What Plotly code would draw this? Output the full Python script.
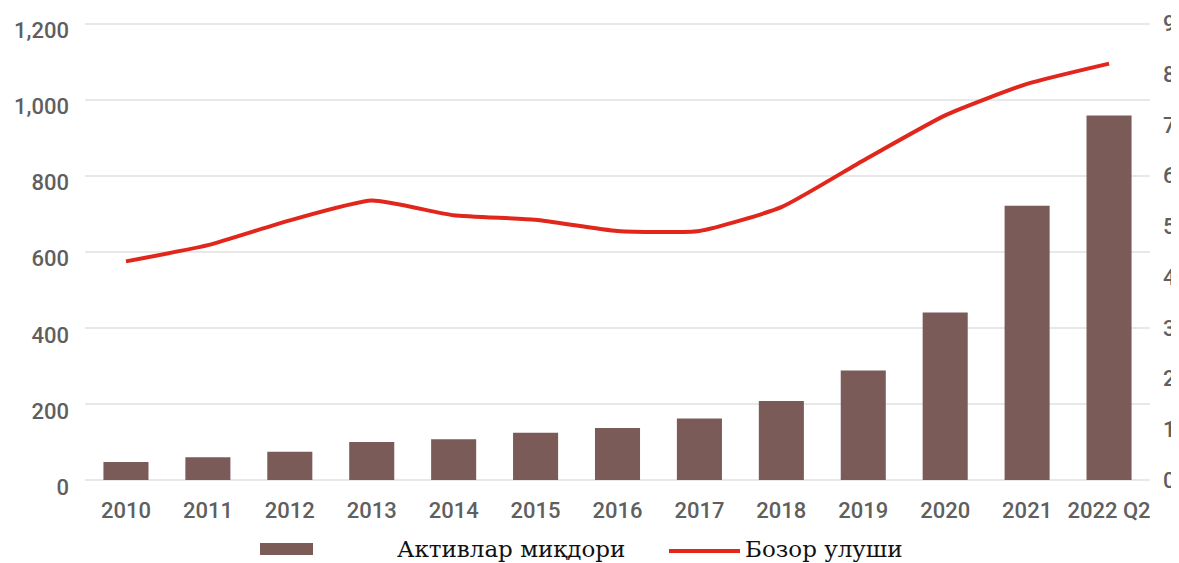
import plotly.graph_objects as go

categories = ["2010", "2011", "2012", "2013", "2014", "2015", "2016",
              "2017", "2018", "2019", "2020", "2021", "2022 Q2"]
assets = [47, 60, 74, 100, 107, 124, 137, 162, 208, 288, 440, 721, 958]
market_share = [4.31, 4.63, 5.12, 5.51, 5.22, 5.13, 4.91, 4.91, 5.38, 6.30, 7.19, 7.81, 8.21]

bar_name = "Активлар миқдори"
line_name = "Бозор улуши"

bar_color = "#7b5b58"
line_color = "#e1261c"
tick_color = "#5f5f5f"
grid_color = "#e8e8e8"
tick_font = dict(family="Roboto, Arial, sans-serif", size=22, color=tick_color, weight=500)

fig = go.Figure()
fig.add_trace(go.Bar(x=categories, y=assets, name=bar_name,
                     marker=dict(color=bar_color, line=dict(width=0)),
                     yaxis="y", showlegend=False))
fig.add_trace(go.Scatter(x=categories, y=market_share, name=line_name,
                         mode="lines", line=dict(color=line_color, width=4,
                                                 shape="spline", smoothing=0.5),
                         yaxis="y2", showlegend=False))

top_pad = 1204 / 1200
fig.update_layout(
    width=1171, height=555,
    margin=dict(l=77, r=29, t=14, b=83, autoexpand=False),
    paper_bgcolor="white", plot_bgcolor="white",
    bargap=0.45,
    xaxis=dict(type="category", showgrid=False, showline=False, zeroline=False,
               automargin=False, ticks="", tickfont=tick_font, ticklabelstandoff=15),
    yaxis=dict(range=[0, 1200 * top_pad], tickvals=[0, 200, 400, 600, 800, 1000, 1200],
               tickformat=",", showgrid=True,
               gridcolor=grid_color, gridwidth=1.5, zeroline=True,
               zerolinecolor=grid_color, zerolinewidth=1.5, showline=False,
               automargin=False, ticks="", tickfont=tick_font,
               ticklabelstandoff=15, ticklabelshift=7, ticklabeloverflow="allow"),
    yaxis2=dict(range=[0, 9 * top_pad], tickvals=list(range(10)), overlaying="y", side="right",
                showgrid=False, zeroline=False, showline=False, ticks="",
                automargin=False, tickfont=tick_font, ticklabelstandoff=12,
                ticklabeloverflow="allow"),
)

# manual legend (paper coords relative to plot area: x 85..1150, y 480..23 on screen)
fig.add_shape(type="rect", xref="paper", yref="paper",
              x0=(260 - 85) / 1065, x1=(313 - 85) / 1065,
              y0=(480 - 555) / 458, y1=(480 - 543) / 458,
              fillcolor=bar_color, line=dict(width=0))
fig.add_shape(type="line", xref="paper", yref="paper",
              x0=(669 - 85) / 1065, x1=(740 - 85) / 1065,
              y0=(480 - 551) / 458, y1=(480 - 551) / 458,
              line=dict(color=line_color, width=4))
legend_font = dict(family="DejaVu Serif, Liberation Serif, serif", size=23, color="#111111")
fig.add_annotation(xref="paper", yref="paper", x=(396 - 85) / 1065,
                   y=(480 - 563) / 458, text=bar_name, showarrow=False,
                   xanchor="left", yanchor="bottom", font=legend_font,
                   borderpad=0)
fig.add_annotation(xref="paper", yref="paper", x=(744 - 85) / 1065,
                   y=(480 - 563) / 458, text=line_name, showarrow=False,
                   xanchor="left", yanchor="bottom", font=legend_font,
                   borderpad=0)

fig.write_html("out.html")
